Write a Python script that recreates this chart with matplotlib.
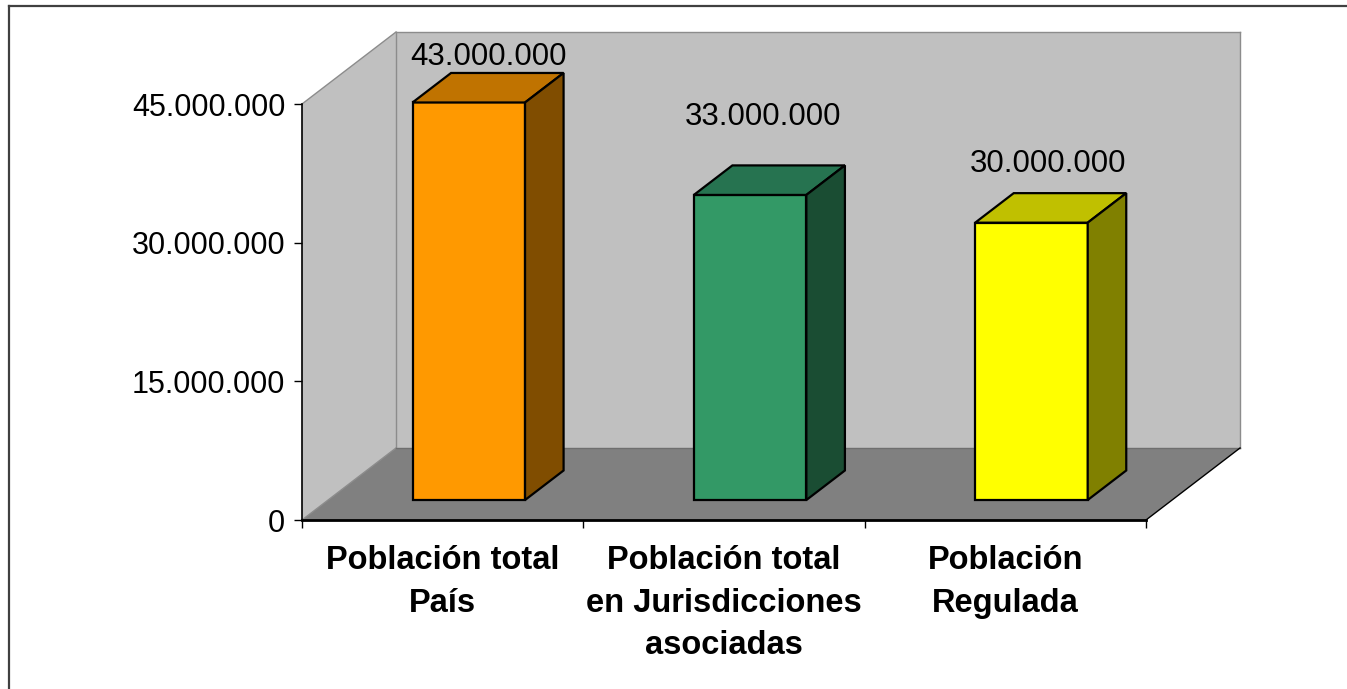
import matplotlib.pyplot as plt
from matplotlib.patches import Polygon
from matplotlib.lines import Line2D
from matplotlib.ticker import FuncFormatter

categories = ['Población total\nPaís', 'Población total\nen Jurisdicciones\nasociadas', 'Población\nRegulada']
values = [43000000, 33000000, 30000000]
valueLabels = ['43.000.000', '33.000.000', '30.000.000']
yTicks = [0, 15000000, 30000000, 45000000]
yMax = 45000000

frontColors = ['#FF9900', '#339966', '#FFFF00']
topColors = ['#C07300', '#267350', '#C0C000']
sideColors = ['#804D00', '#1A4D33', '#808000']
# label offsets in pixels from the top centre of each bar
labelOffsets = [(0, 23), (-6, 55), (-3, 36)]

plt.rcParams['font.family'] = ['Liberation Sans', 'DejaVu Sans']

fig = plt.figure(figsize=(13.47, 6.89), dpi=100)
ax = fig.add_axes([302 / 1347, 169 / 689, 844 / 1347, 416 / 689])
ax.set_xlim(0, 3)
ax.set_ylim(0, yMax)
ax.patch.set_visible(False)

# depth of the 3d box in data units
depthX = 94 / 844 * 3
depthY = 72 / 416 * yMax


def proj(x, y, z):
    return (x + z * depthX, y + z * depthY)


def face(points, color, edge='none', lw=0, z=1):
    poly = Polygon([proj(*p) for p in points], closed=True, facecolor=color,
                   edgecolor=edge, linewidth=lw, clip_on=False, zorder=z, joinstyle='miter')
    ax.add_patch(poly)


def edge(p1, p2, color, lw=1.0, z=1.5):
    a = proj(*p1)
    b = proj(*p2)
    ax.add_line(Line2D([a[0], b[0]], [a[1], b[1]], color=color, linewidth=lw, clip_on=False, zorder=z))


# walls and floor
face([(0, 0, 0), (0, yMax, 0), (0, yMax, 1), (0, 0, 1)], '#C0C0C0')
face([(0, 0, 1), (3, 0, 1), (3, yMax, 1), (0, yMax, 1)], '#C0C0C0')
face([(0, 0, 0), (3, 0, 0), (3, 0, 1), (0, 0, 1)], '#808080')

edge((0, yMax, 0), (0, yMax, 1), '#8C8C8C')
edge((0, yMax, 1), (3, yMax, 1), '#8C8C8C')
edge((3, yMax, 1), (3, 0, 1), '#8C8C8C')
edge((0, 0, 1), (0, yMax, 1), '#8C8C8C')
edge((0, 0, 0), (0, 0, 1), '#8C8C8C')
edge((0, 0, 1), (3, 0, 1), '#6E6E6E')
edge((3, 0, 0), (3, 0, 1), '#000000', 1.0)

# bars
z0 = 20 / 72
z1 = z0 + 0.41
halfWidth = 0.2
for i, v in enumerate(values):
    x0 = i + 0.5 - halfWidth
    x1 = i + 0.5 + halfWidth
    face([(x0, 0, z0), (x1, 0, z0), (x1, v, z0), (x0, v, z0)], frontColors[i], 'black', 1.6, 3)
    face([(x0, v, z0), (x1, v, z0), (x1, v, z1), (x0, v, z1)], topColors[i], 'black', 1.6, 3)
    face([(x1, 0, z0), (x1, 0, z1), (x1, v, z1), (x1, v, z0)], sideColors[i], 'black', 1.6, 3)
    ax.annotate(valueLabels[i], xy=proj(i + 0.5, v, (z0 + z1) / 2), xytext=labelOffsets[i],
                textcoords='offset pixels', ha='center', va='baseline', fontsize=22.5, zorder=4,
                annotation_clip=False)

# axes
for s in ['top', 'right']:
    ax.spines[s].set_visible(False)
ax.spines['left'].set_color('black')
ax.spines['left'].set_linewidth(1.2)
ax.spines['bottom'].set_color('black')
ax.spines['bottom'].set_linewidth(2)
ax.spines['left'].set_zorder(5)
ax.spines['bottom'].set_zorder(5)

ax.set_yticks(yTicks)
ax.yaxis.set_major_formatter(FuncFormatter(lambda v, p: f'{int(v):,}'.replace(',', '.')))
ax.tick_params(axis='y', direction='out', length=6, width=1, labelsize=22, pad=6)

ax.set_xticks([0, 1, 2, 3])
ax.set_xticklabels(['', '', '', ''])
ax.tick_params(axis='x', which='major', direction='out', length=6, width=1)
ax.set_xticks([0.5, 1.5, 2.5], minor=True)
ax.set_xticklabels(categories, minor=True, fontsize=23.5, fontweight='bold')
ax.tick_params(axis='x', which='minor', length=0, pad=18)
for lab in ax.get_xticklabels(minor=True):
    lab.set_linespacing(1.48)

# outer chart border
fig.add_artist(Line2D([8.5 / 1347, 8.5 / 1347], [0, 1 - 5.7 / 689], transform=fig.transFigure,
                      color='#404040', linewidth=1.6))
fig.add_artist(Line2D([8.5 / 1347, 1], [1 - 5.7 / 689, 1 - 5.7 / 689], transform=fig.transFigure,
                      color='#404040', linewidth=1.6))

fig.savefig('out.png', dpi=100)
